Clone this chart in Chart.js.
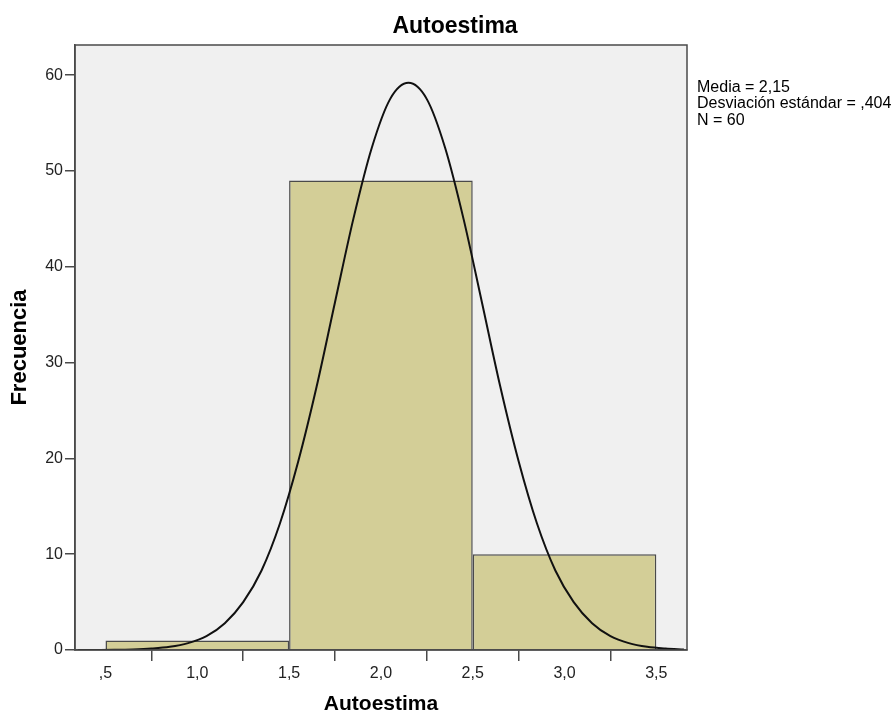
<!DOCTYPE html>
<html>
<head>
<meta charset="utf-8">
<script src="https://cdn.jsdelivr.net/npm/chart.js@4"></script>
<style>
  body { margin: 0; background: #fff; }
</style>
</head>
<body>
<canvas id="myChart" width="895" height="717"></canvas>
<script>
const titulo = "Autoestima";
const binCentros = [1, 2, 3];
const frecuencias = [1, 49, 10];
// curva normal
const curvaX = [0.35, 0.45, 0.55, 0.65, 0.75, 0.85, 0.95, 1.05, 1.15, 1.25, 1.35, 1.45, 1.55, 1.65, 1.75, 1.85, 1.95, 2.05, 2.15,
  2.25, 2.35, 2.45, 2.55, 2.65, 2.75, 2.85, 2.95, 3.05, 3.15, 3.25, 3.35, 3.45, 3.55, 3.65];
const curvaY = [0.003, 0.008, 0.02, 0.06, 0.15, 0.33, 0.72, 1.45, 2.8, 5.0, 8.3, 13.2, 19.7, 27.5, 36.3, 45.0, 52.4, 57.5, 59.2,
  57.5, 52.4, 45.0, 36.3, 27.5, 19.7, 13.2, 8.3, 5.0, 2.8, 1.45, 0.72, 0.33, 0.15, 0.06];
const xTicks = [0.5, 1.0, 1.5, 2.0, 2.5, 3.0, 3.5];
const yTicks = [0, 10, 20, 30, 40, 50, 60];
const estadisticos = ["Media = 2,15", "Desviación estándar = ,404", "N = 60"];

const frameColor = "#4a4a4a";

const fondoPlugin = {
  id: "fondo",
  beforeDraw(chart) {
    const { ctx, chartArea: a } = chart;
    ctx.save();
    ctx.fillStyle = "#f0f0f0";
    ctx.fillRect(a.left, a.top, a.right - a.left, a.bottom - a.top);
    ctx.restore();
  },
  afterDraw(chart) {
    const { ctx, chartArea: a } = chart;
    ctx.save();
    ctx.strokeStyle = frameColor;
    ctx.lineWidth = 1.5;
    ctx.strokeRect(a.left, a.top, a.right - a.left, a.bottom - a.top);
    // titulo
    ctx.fillStyle = "#000";
    ctx.font = "bold 23px 'Liberation Sans', Arial, sans-serif";
    ctx.textAlign = "center";
    ctx.textBaseline = "alphabetic";
    ctx.fillText(titulo, 455, 33);
    // estadisticos
    ctx.font = "16px 'Liberation Sans', Arial, sans-serif";
    ctx.textAlign = "left";
    estadisticos.forEach((t, i) => ctx.fillText(t, a.right + 10, 91.5 + i * 16.5));
    ctx.restore();
  },
};

const fmt = (v) => {
  let s = v.toFixed(1).replace(".", ",");
  if (s.startsWith("0")) s = s.slice(1);
  return s;
};

const ctx = document.getElementById("myChart").getContext("2d");
const myChart = new Chart(ctx, {
  type: "bar",
  data: {
    datasets: [
      {
        type: "bar",
        data: binCentros.map((x, i) => ({ x: x, y: frecuencias[i] })),
        backgroundColor: "#d3ce97",
        borderColor: frameColor,
        borderWidth: 1.5,
        // ticks every 0.5 set the minimum spacing, bins are 1.0 wide
        barPercentage: 2,
        categoryPercentage: 1,
        order: 2,
      },
      {
        type: "line",
        data: curvaX.map((x, i) => ({ x: x, y: curvaY[i] })),
        borderColor: "#111",
        borderWidth: 2,
        pointRadius: 0,
        fill: false,
        cubicInterpolationMode: "monotone",
        order: 1,
      },
    ],
  },
  options: {
    responsive: false,
    animation: false,
    layout: { padding: { top: 45, right: 208, left: 0, bottom: 0 } },
    plugins: {
      legend: { display: false },
      tooltip: { enabled: false },
    },
    scales: {
      x: {
        type: "linear",
        offset: false,
        min: 0.334,
        max: 3.667,
        afterBuildTicks: (s) => { s.ticks = xTicks.map((v) => ({ value: v })); },
        afterFit: (s) => { s.height = 67; },
        grid: { drawOnChartArea: false, drawTicks: true, tickLength: 11, color: frameColor, lineWidth: 1.5 },
        border: { display: true, color: frameColor, width: 1.5 },
        ticks: {
          color: "#222",
          font: { family: "'Liberation Sans', Arial, sans-serif", size: 16 },
          padding: 3,
          maxRotation: 0,
          callback: (v) => fmt(v),
        },
        title: {
          display: true,
          text: "Autoestima",
          color: "#000",
          font: { family: "'Liberation Sans', Arial, sans-serif", size: 21, weight: "bold", lineHeight: 1.2 },
          padding: { top: 0, bottom: 0 },
        },
      },
      y: {
        min: 0,
        max: 63.15,
        afterBuildTicks: (s) => { s.ticks = yTicks.map((v) => ({ value: v })); },
        afterFit: (s) => { s.width = 75; },
        grid: { drawOnChartArea: false, drawTicks: true, tickLength: 10, color: frameColor, lineWidth: 1.5 },
        border: { display: true, color: frameColor, width: 1.5 },
        ticks: {
          color: "#222",
          font: { family: "'Liberation Sans', Arial, sans-serif", size: 16 },
          padding: 2,
        },
        title: {
          display: true,
          text: "Frecuencia",
          color: "#000",
          font: { family: "'Liberation Sans', Arial, sans-serif", size: 22, weight: "bold", lineHeight: 1.2 },
          padding: { top: 7, bottom: 0 },
        },
      },
    },
  },
  plugins: [fondoPlugin],
});
</script>
</body>
</html>
